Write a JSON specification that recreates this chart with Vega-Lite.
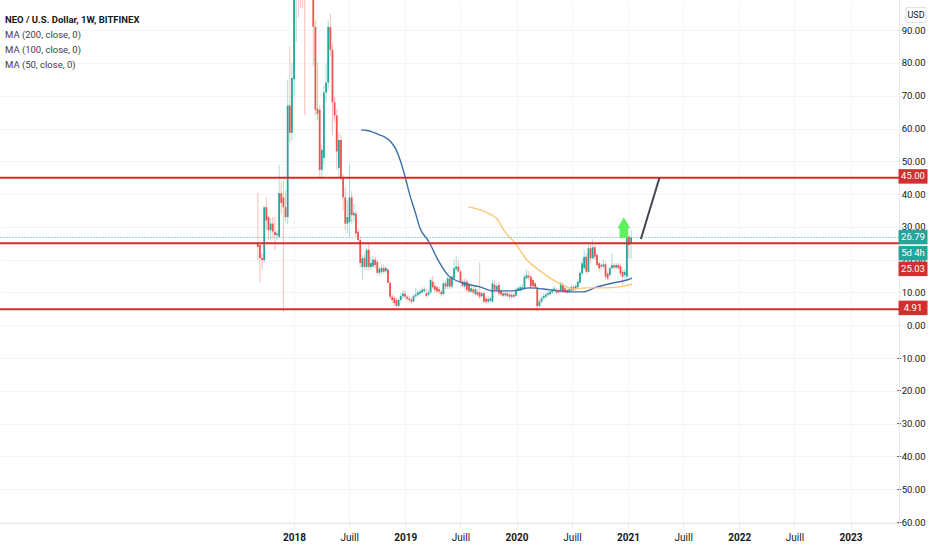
{
  "$schema": "https://vega.github.io/schema/vega-lite/v6.json",
  "description": "NEO / USD weekly candles with moving averages and support levels",
  "width": 899,
  "height": 523,
  "padding": {"left": 0, "top": 0, "right": 33, "bottom": 27},
  "autosize": "none",
  "background": "#ffffff",
  "title": {
    "text": "NEO / U.S. Dollar, 1W, BITFINEX",
    "subtitle": ["MA (200, close, 0)", "MA (100, close, 0)", "MA (50, close, 0)"],
    "anchor": "start",
    "frame": "group",
    "orient": "top",
    "offset": -69,
    "dx": 5,
    "font": "Roboto",
    "fontSize": 9.5,
    "fontWeight": "bold",
    "color": "#131722",
    "subtitleFont": "Roboto",
    "subtitleFontSize": 9.5,
    "subtitleColor": "#3c4048",
    "subtitleLineHeight": 15,
    "subtitlePadding": 5
  },
  "config": {
    "view": {"stroke": null},
    "font": "Roboto"
  },
  "resolve": {"scale": {"color": "independent"}},
  "datasets": {
    "candles": [
      {"date":"2017-09-04","open":25.1,"high":40.3,"low":20,"close":23.9},
      {"date":"2017-09-11","open":24.5,"high":25,"low":13.2,"close":20.5},
      {"date":"2017-09-18","open":20.5,"high":22,"low":16.9,"close":19.9},
      {"date":"2017-09-25","open":19.9,"high":36.5,"low":19,"close":36},
      {"date":"2017-10-02","open":36,"high":39,"low":29,"close":32},
      {"date":"2017-10-09","open":33,"high":33.5,"low":26,"close":29},
      {"date":"2017-10-16","open":29,"high":32.7,"low":26,"close":31},
      {"date":"2017-10-23","open":31,"high":33,"low":26.5,"close":28.6},
      {"date":"2017-10-30","open":28.5,"high":33,"low":23,"close":27.5},
      {"date":"2017-11-06","open":27.5,"high":29,"low":26,"close":28},
      {"date":"2017-11-13","open":27,"high":49,"low":26.5,"close":40.3},
      {"date":"2017-11-20","open":40.3,"high":43.7,"low":34,"close":37.3},
      {"date":"2017-11-27","open":39,"high":44,"low":4,"close":36},
      {"date":"2017-12-04","open":36,"high":41,"low":31.5,"close":33},
      {"date":"2017-12-11","open":33,"high":75,"low":31,"close":67},
      {"date":"2017-12-18","open":67,"high":85,"low":55.6,"close":58.7},
      {"date":"2017-12-25","open":58.7,"high":80,"low":56.5,"close":75.4},
      {"date":"2018-01-01","open":75,"high":140,"low":70,"close":115},
      {"date":"2018-01-08","open":115,"high":190,"low":86.4,"close":165},
      {"date":"2018-01-15","open":165,"high":195,"low":94,"close":140},
      {"date":"2018-01-22","open":140,"high":165,"low":96.7,"close":125},
      {"date":"2018-01-29","open":125,"high":145,"low":96.7,"close":110},
      {"date":"2018-02-05","open":115,"high":130,"low":64,"close":108},
      {"date":"2018-02-12","open":108,"high":130,"low":100.5,"close":125},
      {"date":"2018-02-19","open":125,"high":135,"low":105,"close":120},
      {"date":"2018-02-26","open":120,"high":128,"low":102,"close":110},
      {"date":"2018-03-05","open":110,"high":118,"low":79,"close":91},
      {"date":"2018-03-12","open":91,"high":93,"low":64,"close":65.7},
      {"date":"2018-03-19","open":66,"high":80,"low":62.6,"close":64.5},
      {"date":"2018-03-26","open":65.7,"high":67,"low":45,"close":47.4},
      {"date":"2018-04-02","open":47.4,"high":55,"low":45,"close":53.5},
      {"date":"2018-04-09","open":51,"high":73,"low":49,"close":71},
      {"date":"2018-04-16","open":71,"high":80,"low":68,"close":74},
      {"date":"2018-04-23","open":74,"high":93,"low":72,"close":91},
      {"date":"2018-04-30","open":91,"high":95,"low":82,"close":84},
      {"date":"2018-05-07","open":84,"high":86,"low":58,"close":68},
      {"date":"2018-05-14","open":68,"high":69.6,"low":62,"close":64},
      {"date":"2018-05-21","open":64,"high":66,"low":47.4,"close":53},
      {"date":"2018-05-28","open":48,"high":58.7,"low":45,"close":56.5},
      {"date":"2018-06-04","open":56.5,"high":58,"low":44,"close":45},
      {"date":"2018-06-11","open":45,"high":46,"low":35,"close":39},
      {"date":"2018-06-18","open":39,"high":42,"low":29,"close":31},
      {"date":"2018-06-25","open":31,"high":38,"low":28,"close":33},
      {"date":"2018-07-02","open":31.5,"high":49,"low":27,"close":39},
      {"date":"2018-07-09","open":39,"high":41,"low":31,"close":33.6},
      {"date":"2018-07-16","open":33.5,"high":37,"low":31.5,"close":34.3},
      {"date":"2018-07-23","open":34,"high":35,"low":27,"close":28},
      {"date":"2018-07-30","open":28.5,"high":29.5,"low":25,"close":26},
      {"date":"2018-08-06","open":26,"high":27,"low":17.5,"close":19},
      {"date":"2018-08-13","open":17.8,"high":21.5,"low":14,"close":20.5},
      {"date":"2018-08-20","open":20.5,"high":22,"low":17,"close":17.8},
      {"date":"2018-08-27","open":17.8,"high":23.6,"low":16.8,"close":23},
      {"date":"2018-09-03","open":23,"high":25,"low":16.8,"close":17.8},
      {"date":"2018-09-10","open":17.8,"high":21,"low":17,"close":19},
      {"date":"2018-09-17","open":18,"high":21,"low":17.5,"close":20},
      {"date":"2018-09-24","open":20,"high":21,"low":17.5,"close":18.4},
      {"date":"2018-10-01","open":19.3,"high":20,"low":15.4,"close":16},
      {"date":"2018-10-08","open":16,"high":18,"low":15,"close":17.2},
      {"date":"2018-10-15","open":16.3,"high":18.5,"low":15.6,"close":17.5},
      {"date":"2018-10-22","open":17.5,"high":18.5,"low":15.7,"close":16.3},
      {"date":"2018-10-29","open":16.5,"high":18.2,"low":16,"close":17.5},
      {"date":"2018-11-05","open":17,"high":17.5,"low":12.8,"close":13},
      {"date":"2018-11-12","open":13,"high":13.5,"low":8,"close":8.7},
      {"date":"2018-11-19","open":8.7,"high":9.5,"low":6.8,"close":7.7},
      {"date":"2018-11-26","open":8.3,"high":9,"low":5.9,"close":6.8},
      {"date":"2018-12-03","open":7.7,"high":8.5,"low":5.5,"close":5.9},
      {"date":"2018-12-10","open":5.9,"high":8.3,"low":5.5,"close":7.7},
      {"date":"2018-12-17","open":7.7,"high":9.8,"low":7,"close":8.9},
      {"date":"2018-12-24","open":8.9,"high":10.8,"low":8,"close":9.7},
      {"date":"2018-12-31","open":9.6,"high":10.5,"low":8,"close":8.7},
      {"date":"2019-01-07","open":8.7,"high":9.2,"low":7.4,"close":8.1},
      {"date":"2019-01-14","open":8.2,"high":9,"low":7,"close":7.7},
      {"date":"2019-01-21","open":7.9,"high":8.5,"low":6.7,"close":7.2},
      {"date":"2019-01-28","open":7.3,"high":9.5,"low":7,"close":8.9},
      {"date":"2019-02-04","open":8.8,"high":11.3,"low":8.5,"close":9.4},
      {"date":"2019-02-11","open":9.2,"high":10.8,"low":8.9,"close":10},
      {"date":"2019-02-18","open":9.6,"high":11,"low":9,"close":10.3},
      {"date":"2019-02-25","open":10,"high":11.5,"low":9.6,"close":10.8},
      {"date":"2019-03-04","open":10.4,"high":11.8,"low":9.9,"close":11},
      {"date":"2019-03-11","open":9.75,"high":11,"low":8.5,"close":9},
      {"date":"2019-03-18","open":9.3,"high":11,"low":8.8,"close":10},
      {"date":"2019-03-25","open":10,"high":14.5,"low":9.5,"close":13.8},
      {"date":"2019-04-01","open":13.3,"high":15,"low":11,"close":11.6},
      {"date":"2019-04-08","open":12,"high":13,"low":10,"close":10.8},
      {"date":"2019-04-15","open":11.6,"high":12,"low":9.8,"close":10.3},
      {"date":"2019-04-22","open":11,"high":11.8,"low":9.5,"close":10.3},
      {"date":"2019-04-29","open":10.2,"high":10.8,"low":8.7,"close":9.5},
      {"date":"2019-05-06","open":9.5,"high":13.3,"low":9,"close":12.8},
      {"date":"2019-05-13","open":12.8,"high":13.5,"low":11,"close":11.8},
      {"date":"2019-05-20","open":11.8,"high":15,"low":11,"close":14.3},
      {"date":"2019-05-27","open":14.3,"high":15,"low":11,"close":11.8},
      {"date":"2019-06-03","open":11.8,"high":15.5,"low":11.2,"close":14.8},
      {"date":"2019-06-10","open":14.3,"high":20,"low":14,"close":17.4},
      {"date":"2019-06-17","open":17.1,"high":21.1,"low":16.5,"close":17.9},
      {"date":"2019-06-24","open":17.9,"high":19.8,"low":16,"close":16.4},
      {"date":"2019-07-01","open":16.4,"high":17,"low":13,"close":13.3},
      {"date":"2019-07-08","open":13.3,"high":14,"low":11.5,"close":12},
      {"date":"2019-07-15","open":11.8,"high":14.3,"low":11,"close":13.3},
      {"date":"2019-07-22","open":13.3,"high":14,"low":10.2,"close":10.8},
      {"date":"2019-07-29","open":12.3,"high":13,"low":9.8,"close":10.3},
      {"date":"2019-08-05","open":10.3,"high":12,"low":9.8,"close":11.3},
      {"date":"2019-08-12","open":11,"high":11.8,"low":9.5,"close":10},
      {"date":"2019-08-19","open":9.5,"high":11.7,"low":9,"close":11},
      {"date":"2019-08-26","open":10.2,"high":11,"low":8.8,"close":9.2},
      {"date":"2019-09-02","open":10,"high":19.2,"low":8,"close":8.7},
      {"date":"2019-09-09","open":8.9,"high":10.3,"low":8.5,"close":9.75},
      {"date":"2019-09-16","open":9.75,"high":10.3,"low":6.7,"close":7.2},
      {"date":"2019-09-23","open":8.2,"high":8.8,"low":6.6,"close":7.2},
      {"date":"2019-09-30","open":7.2,"high":9,"low":6.7,"close":8},
      {"date":"2019-10-07","open":7.5,"high":8.8,"low":7,"close":8.2},
      {"date":"2019-10-14","open":7.2,"high":13.8,"low":6.8,"close":12.8},
      {"date":"2019-10-21","open":12.3,"high":13.6,"low":10,"close":10.8},
      {"date":"2019-10-28","open":10.8,"high":12.8,"low":10.3,"close":12},
      {"date":"2019-11-04","open":12.3,"high":13.3,"low":9,"close":9.75},
      {"date":"2019-11-11","open":10.5,"high":11,"low":9,"close":9.4},
      {"date":"2019-11-18","open":9.75,"high":10.5,"low":8.5,"close":9},
      {"date":"2019-11-25","open":9.1,"high":10.3,"low":8.6,"close":9.75},
      {"date":"2019-12-02","open":9.75,"high":10.4,"low":8.6,"close":9},
      {"date":"2019-12-09","open":9.4,"high":10,"low":8,"close":8.7},
      {"date":"2019-12-16","open":8.7,"high":10,"low":8,"close":9.3},
      {"date":"2019-12-23","open":9.3,"high":9.8,"low":8.2,"close":8.7},
      {"date":"2019-12-30","open":9,"high":11.5,"low":8.7,"close":10.8},
      {"date":"2020-01-06","open":10.8,"high":11.8,"low":10.3,"close":11.3},
      {"date":"2020-01-13","open":10.6,"high":12.3,"low":10,"close":11.6},
      {"date":"2020-01-20","open":11,"high":12.5,"low":10.5,"close":11.6},
      {"date":"2020-01-27","open":11.3,"high":15.5,"low":11,"close":14.8},
      {"date":"2020-02-03","open":14.3,"high":17,"low":14,"close":15.3},
      {"date":"2020-02-10","open":15.1,"high":16.5,"low":13.8,"close":14.6},
      {"date":"2020-02-17","open":14.8,"high":15.5,"low":11,"close":11.8},
      {"date":"2020-02-24","open":13.8,"high":14.3,"low":11.4,"close":12},
      {"date":"2020-03-02","open":12.8,"high":13.3,"low":11,"close":11.6},
      {"date":"2020-03-09","open":11.6,"high":12,"low":4.2,"close":5.9},
      {"date":"2020-03-16","open":5.9,"high":8,"low":5.5,"close":7.2},
      {"date":"2020-03-23","open":7.2,"high":9,"low":6.6,"close":8.2},
      {"date":"2020-03-30","open":8.2,"high":9.8,"low":7.8,"close":8.9},
      {"date":"2020-04-06","open":8.7,"high":10,"low":8.3,"close":9.4},
      {"date":"2020-04-13","open":9.2,"high":10.5,"low":8.7,"close":9.75},
      {"date":"2020-04-20","open":9.5,"high":10.8,"low":9,"close":10.2},
      {"date":"2020-04-27","open":10,"high":11.5,"low":9.5,"close":10.75},
      {"date":"2020-05-04","open":10.5,"high":12,"low":10,"close":11.2},
      {"date":"2020-05-11","open":10.75,"high":11.5,"low":9.3,"close":10},
      {"date":"2020-05-18","open":10.6,"high":11.2,"low":9.5,"close":10},
      {"date":"2020-05-25","open":10.5,"high":13.3,"low":10,"close":12.8},
      {"date":"2020-06-01","open":12.3,"high":13,"low":9.8,"close":10.2},
      {"date":"2020-06-08","open":11.3,"high":12,"low":9.8,"close":10.2},
      {"date":"2020-06-15","open":10.75,"high":11.3,"low":9.5,"close":10},
      {"date":"2020-06-22","open":10.2,"high":11.5,"low":9.8,"close":11},
      {"date":"2020-06-29","open":10.5,"high":12.3,"low":10,"close":11.6},
      {"date":"2020-07-06","open":11.6,"high":12.3,"low":10,"close":10.75},
      {"date":"2020-07-13","open":11,"high":12.5,"low":10.5,"close":12},
      {"date":"2020-07-20","open":11.6,"high":14,"low":11.2,"close":13.3},
      {"date":"2020-07-27","open":13,"high":16.5,"low":12.7,"close":16},
      {"date":"2020-08-03","open":15.8,"high":20.4,"low":15,"close":18.9},
      {"date":"2020-08-10","open":17.4,"high":23,"low":17,"close":20.9},
      {"date":"2020-08-17","open":20.9,"high":22,"low":15.5,"close":16.3},
      {"date":"2020-08-24","open":16.3,"high":24.5,"low":16,"close":23.5},
      {"date":"2020-08-31","open":23.5,"high":25,"low":19,"close":20.4},
      {"date":"2020-09-07","open":20.4,"high":26.2,"low":20,"close":23.8},
      {"date":"2020-09-14","open":23.8,"high":24.5,"low":20,"close":20.9},
      {"date":"2020-09-21","open":21.4,"high":22,"low":18,"close":18.4},
      {"date":"2020-09-28","open":18.9,"high":19.5,"low":16.3,"close":17.4},
      {"date":"2020-10-05","open":18.4,"high":19,"low":17,"close":17.9},
      {"date":"2020-10-12","open":17.9,"high":20,"low":17.3,"close":18.6},
      {"date":"2020-10-19","open":18.6,"high":19.5,"low":14,"close":14.8},
      {"date":"2020-10-26","open":15.8,"high":16.5,"low":13.8,"close":14.3},
      {"date":"2020-11-02","open":15.3,"high":18,"low":14.8,"close":17.4},
      {"date":"2020-11-09","open":17.4,"high":22,"low":17,"close":18.4},
      {"date":"2020-11-16","open":18.2,"high":19,"low":17,"close":17.6},
      {"date":"2020-11-23","open":17.6,"high":19,"low":17,"close":18.4},
      {"date":"2020-11-30","open":18.4,"high":19,"low":17,"close":17.4},
      {"date":"2020-12-07","open":18,"high":18.8,"low":15,"close":15.8},
      {"date":"2020-12-14","open":16.3,"high":17,"low":12.3,"close":14.8},
      {"date":"2020-12-21","open":15.3,"high":17,"low":14,"close":16.3},
      {"date":"2020-12-28","open":14.8,"high":27.5,"low":14,"close":27},
      {"date":"2021-01-04","open":27,"high":27.5,"low":20.4,"close":24.5},
      {"date":"2021-01-11","open":25,"high":29,"low":20.4,"close":26.79}
    ],
    "averages": [
      {"date":"2018-08-09","value":59.6,"series":"MA 50"},
      {"date":"2018-08-28","value":59.4,"series":"MA 50"},
      {"date":"2018-09-14","value":59,"series":"MA 50"},
      {"date":"2018-10-10","value":58,"series":"MA 50"},
      {"date":"2018-10-26","value":57.4,"series":"MA 50"},
      {"date":"2018-11-15","value":55.9,"series":"MA 50"},
      {"date":"2018-12-02","value":53.5,"series":"MA 50"},
      {"date":"2018-12-15","value":50.4,"series":"MA 50"},
      {"date":"2018-12-25","value":47.4,"series":"MA 50"},
      {"date":"2019-01-03","value":44.3,"series":"MA 50"},
      {"date":"2019-01-16","value":39.7,"series":"MA 50"},
      {"date":"2019-02-02","value":34.6,"series":"MA 50"},
      {"date":"2019-02-18","value":29.7,"series":"MA 50"},
      {"date":"2019-03-20","value":25.4,"series":"MA 50"},
      {"date":"2019-04-15","value":20.5,"series":"MA 50"},
      {"date":"2019-05-21","value":15.3,"series":"MA 50"},
      {"date":"2019-07-09","value":12.9,"series":"MA 50"},
      {"date":"2019-09-03","value":11.7,"series":"MA 50"},
      {"date":"2019-10-16","value":10.5,"series":"MA 50"},
      {"date":"2019-12-20","value":10.5,"series":"MA 50"},
      {"date":"2020-02-14","value":11.4,"series":"MA 50"},
      {"date":"2020-04-20","value":10.8,"series":"MA 50"},
      {"date":"2020-06-24","value":10.2,"series":"MA 50"},
      {"date":"2020-08-06","value":10.2,"series":"MA 50"},
      {"date":"2020-09-21","value":11.7,"series":"MA 50"},
      {"date":"2020-11-12","value":12.9,"series":"MA 50"},
      {"date":"2020-12-28","value":13.8,"series":"MA 50"},
      {"date":"2021-01-14","value":14.4,"series":"MA 50"},
      {"date":"2019-07-26","value":36.1,"series":"MA 100"},
      {"date":"2019-09-03","value":35.2,"series":"MA 100"},
      {"date":"2019-10-06","value":33.9,"series":"MA 100"},
      {"date":"2019-10-29","value":32.4,"series":"MA 100"},
      {"date":"2019-11-24","value":28.5,"series":"MA 100"},
      {"date":"2019-12-27","value":25.1,"series":"MA 100"},
      {"date":"2020-02-04","value":19.9,"series":"MA 100"},
      {"date":"2020-03-18","value":16.6,"series":"MA 100"},
      {"date":"2020-04-20","value":14.4,"series":"MA 100"},
      {"date":"2020-06-01","value":12.3,"series":"MA 100"},
      {"date":"2020-07-04","value":11.1,"series":"MA 100"},
      {"date":"2020-08-19","value":11.4,"series":"MA 100"},
      {"date":"2020-10-11","value":11.4,"series":"MA 100"},
      {"date":"2020-12-05","value":11.7,"series":"MA 100"},
      {"date":"2021-01-14","value":12.6,"series":"MA 100"}
    ],
    "tags": [
      {"label":"45.00","at":45.4,"kind":"level"},
      {"label":"26.79","at":26.9,"kind":"last"},
      {"label":"5d 4h","at":22,"kind":"last"},
      {"label":"25.03","at":17.2,"kind":"level"},
      {"label":"4.91","at":5.3,"kind":"level"}
    ]
  },
  "layer": [
    {
      "data": {"name": "candles"},
      "mark": {"type": "rule", "strokeWidth": 1, "opacity": 0.38, "clip": true},
      "encoding": {
        "x": {
          "field": "date",
          "type": "temporal",
          "scale": {"type": "utc", "domain": [{"year":2015,"month":5,"date":12,"utc":true}, {"year":2023,"month":6,"date":9,"utc":true}]},
          "axis": {
            "title": null,
            "orient": "bottom",
            "values": [
              {"year":2018,"month":1,"date":1,"utc":true},
              {"year":2018,"month":7,"date":1,"utc":true},
              {"year":2019,"month":1,"date":1,"utc":true},
              {"year":2019,"month":7,"date":1,"utc":true},
              {"year":2020,"month":1,"date":1,"utc":true},
              {"year":2020,"month":7,"date":1,"utc":true},
              {"year":2021,"month":1,"date":1,"utc":true},
              {"year":2021,"month":7,"date":1,"utc":true},
              {"year":2022,"month":1,"date":1,"utc":true},
              {"year":2022,"month":7,"date":1,"utc":true},
              {"year":2023,"month":1,"date":1,"utc":true}
            ],
            "labelExpr": "utcmonth(datum.value) == 6 ? 'Juill' : utcyear(datum.value) + ''",
            "labelFontWeight": {"condition": {"test": "utcmonth(datum.value) == 0", "value": "bold"}, "value": "normal"},
            "labelFont": "Roboto",
            "labelFontSize": 10,
            "labelColor": "#131722",
            "labelPadding": 5,
            "labelOverlap": false,
            "labelFlush": false,
            "tickSize": 4,
            "tickColor": "#e6e8ee",
            "domainColor": "#e6e8ee",
            "grid": true,
            "gridColor": "#f5f5f7",
            "gridWidth": 1
          }
        },
        "y": {
          "field": "low",
          "type": "quantitative",
          "scale": {"domain": [-60.3, 99.2], "nice": false, "zero": false},
          "axis": {
            "title": null,
            "orient": "right",
            "values": [-60,-50,-40,-30,-20,-10,0,10,20,30,40,50,60,70,80,90],
            "tickCount": 16,
            "format": ".2f",
            "labelFont": "Roboto",
            "labelFontSize": 9.5,
            "labelColor": "#131722",
            "labelAlign": "right",
            "labelPadding": 22,
            "labelOverlap": false,
            "labelFlush": false,
            "tickSize": 4,
            "tickColor": "#e6e8ee",
            "domainColor": "#e6e8ee",
            "grid": true,
            "gridColor": "#f5f5f7",
            "gridWidth": 1
          }
        },
        "y2": {"field": "high"},
        "color": {"condition": {"test": "datum.close >= datum.open", "value": "#26a69a"}, "value": "#ef5350"}
      }
    },
    {
      "data": {"name": "candles"},
      "mark": {"type": "rule", "strokeWidth": 1.8, "clip": true},
      "encoding": {
        "x": {"field": "date", "type": "temporal"},
        "y": {"field": "open", "type": "quantitative"},
        "y2": {"field": "close"},
        "color": {"condition": {"test": "datum.close >= datum.open", "value": "#26a69a"}, "value": "#ef5350"}
      }
    },
    {
      "data": {"name": "averages"},
      "mark": {"type": "line", "strokeWidth": 1.4, "interpolate": "monotone"},
      "encoding": {
        "x": {"field": "date", "type": "temporal"},
        "y": {"field": "value", "type": "quantitative"},
        "color": {
          "field": "series",
          "type": "nominal",
          "legend": null,
          "scale": {"domain": ["MA 50", "MA 100"], "range": ["#3d6fa8", "#fcc876"]}
        }
      }
    },
    {
      "data": {"values": [{"level": 26.79}]},
      "mark": {"type": "rule", "color": "#26a69a", "strokeWidth": 1, "strokeDash": [2, 1], "opacity": 0.45},
      "encoding": {"y": {"field": "level", "type": "quantitative"}}
    },
    {
      "data": {"values": [{"level": 45}, {"level": 25.03}, {"level": 4.91}]},
      "mark": {"type": "rule", "color": "#d8292b", "strokeWidth": 2},
      "encoding": {"y": {"field": "level", "type": "quantitative"}}
    },
    {
      "data": {"values": [{"date": "2021-02-12", "value": 26.3}, {"date": "2021-04-14", "value": 45}]},
      "mark": {"type": "line", "color": "#43464f", "strokeWidth": 2},
      "encoding": {
        "x": {"field": "date", "type": "temporal"},
        "y": {"field": "value", "type": "quantitative"}
      }
    },
    {
      "data": {"values": [{"date": "2020-12-18", "value": 29.8}]},
      "mark": {
        "type": "point",
        "filled": true,
        "opacity": 1,
        "color": "#5df25d",
        "size": 169,
        "shape": "M0,-1.6 L1,0.1 L0.65,0.1 L0.65,1.6 L-0.65,1.6 L-0.65,0.1 L-1,0.1 Z"
      },
      "encoding": {
        "x": {"field": "date", "type": "temporal"},
        "y": {"field": "value", "type": "quantitative"}
      }
    },
    {
      "data": {"name": "tags"},
      "mark": {
        "type": "point",
        "filled": true,
        "opacity": 1,
        "clip": false,
        "size": 841,
        "shape": "M-1,-0.5 L1,-0.5 L1,0.5 L-1,0.5 Z"
      },
      "encoding": {
        "x": {"datum": {"year":2023,"month":7,"date":25,"utc":true}, "type": "temporal"},
        "y": {"field": "at", "type": "quantitative"},
        "color": {
          "field": "kind",
          "type": "nominal",
          "legend": null,
          "scale": {"domain": ["level", "last"], "range": ["#d32f2f", "#26a69a"]}
        }
      }
    },
    {
      "data": {"name": "tags"},
      "mark": {"type": "text", "color": "#ffffff", "font": "Roboto", "fontSize": 9.5, "clip": false},
      "encoding": {
        "x": {"datum": {"year":2023,"month":7,"date":25,"utc":true}, "type": "temporal"},
        "y": {"field": "at", "type": "quantitative"},
        "text": {"field": "label"}
      }
    },
    {
      "data": {"values": [{"unit": "USD", "at": 94.6}]},
      "mark": {
        "type": "point",
        "filled": false,
        "opacity": 1,
        "color": "#dfe1e6",
        "strokeWidth": 1,
        "size": 400,
        "shape": "M-1,-0.75 L1,-0.75 L1,0.75 L-1,0.75 Z",
        "clip": false
      },
      "encoding": {
        "x": {"datum": {"year":2023,"month":8,"date":4,"utc":true}, "type": "temporal"},
        "y": {"field": "at", "type": "quantitative"}
      }
    },
    {
      "data": {"values": [{"unit": "USD", "at": 94.6}]},
      "mark": {"type": "text", "color": "#131722", "font": "Roboto", "fontSize": 9, "clip": false},
      "encoding": {
        "x": {"datum": {"year":2023,"month":8,"date":4,"utc":true}, "type": "temporal"},
        "y": {"field": "at", "type": "quantitative"},
        "text": {"field": "unit"}
      }
    }
  ]
}
